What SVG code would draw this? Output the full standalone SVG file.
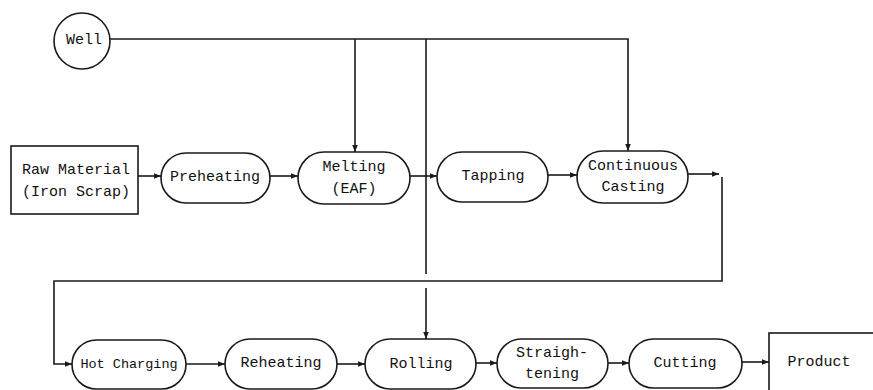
<svg xmlns="http://www.w3.org/2000/svg" width="873" height="390" viewBox="0 0 873 390">
  <style>
    .box { fill: #fff; stroke: #1a1a1a; stroke-width: 1.6; }
    .lbl { font-family: "Liberation Mono", "DejaVu Sans Mono", monospace; font-size: 15px; fill: #111; text-anchor: middle; dominant-baseline: central; }
    .small { font-size: 13.5px; }
    .wire { fill: none; stroke: #1a1a1a; stroke-width: 1.6; }
  </style>
  <defs>
    <marker id="arrow" viewBox="0 0 10 10" refX="10" refY="5" markerWidth="7" markerHeight="7" markerUnits="userSpaceOnUse" orient="auto">
      <path d="M0,1 L10,5 L0,9 z" fill="#1a1a1a"/>
    </marker>
  </defs>
  <rect width="873" height="390" fill="#fff"/>

  <!-- connectors -->
  <g id="connectors">
    <!-- well water header -->
    <path class="wire" d="M110,39 H628 V151" marker-end="url(#arrow)"/>
    <path class="wire" d="M355,39 V152" marker-end="url(#arrow)"/>
    <path class="wire" d="M426,39 V274"/>
    <path class="wire" d="M426,288 V339" marker-end="url(#arrow)"/>
    <!-- upper line -->
    <path class="wire" d="M138,176 H161" marker-end="url(#arrow)"/>
    <path class="wire" d="M270,176 H298" marker-end="url(#arrow)"/>
    <path class="wire" d="M410,176 H437" marker-end="url(#arrow)"/>
    <path class="wire" d="M548,175 H577" marker-end="url(#arrow)"/>
    <path class="wire" d="M688,174 H719" marker-end="url(#arrow)"/>
    <!-- return to lower line -->
    <path class="wire" d="M722,177 V281 H54 V364 H72" marker-end="url(#arrow)"/>
    <!-- lower line -->
    <path class="wire" d="M186,364 H225" marker-end="url(#arrow)"/>
    <path class="wire" d="M337,364 H365" marker-end="url(#arrow)"/>
    <path class="wire" d="M476,363 H497" marker-end="url(#arrow)"/>
    <path class="wire" d="M608,363 H629" marker-end="url(#arrow)"/>
    <path class="wire" d="M742,362 H769" marker-end="url(#arrow)"/>
  </g>

  <g id="well">
    <circle class="box" cx="82" cy="41" r="28"/>
    <text class="lbl" x="84" y="40">Well</text>
  </g>

  <g id="raw-material">
    <rect class="box" x="11" y="146" width="127" height="68"/>
    <text class="lbl" x="76" y="170">Raw Material</text>
    <text class="lbl" x="76" y="192">(Iron Scrap)</text>
  </g>

  <g id="preheating">
    <rect class="box" x="161" y="153" width="109" height="50" rx="25"/>
    <text class="lbl" x="215" y="177">Preheating</text>
  </g>

  <g id="melting">
    <rect class="box" x="298" y="152" width="112" height="52" rx="26"/>
    <text class="lbl" x="354" y="167">Melting</text>
    <text class="lbl" x="354" y="189">(EAF)</text>
  </g>

  <g id="tapping">
    <rect class="box" x="437" y="152" width="111" height="50" rx="25"/>
    <text class="lbl" x="493" y="176">Tapping</text>
  </g>

  <g id="continuous-casting">
    <rect class="box" x="577" y="151" width="111" height="52" rx="26"/>
    <text class="lbl" x="633" y="166">Continuous</text>
    <text class="lbl" x="633" y="187">Casting</text>
  </g>

  <g id="hot-charging">
    <rect class="box" x="72" y="340" width="114" height="49" rx="24.5"/>
    <text class="lbl small" x="129" y="364">Hot Charging</text>
  </g>

  <g id="reheating">
    <rect class="box" x="225" y="339" width="112" height="50" rx="25"/>
    <text class="lbl" x="281" y="363">Reheating</text>
  </g>

  <g id="rolling">
    <rect class="box" x="365" y="339" width="111" height="50" rx="25"/>
    <text class="lbl" x="421" y="364">Rolling</text>
  </g>

  <g id="straightening">
    <rect class="box" x="497" y="339" width="111" height="49" rx="24.5"/>
    <text class="lbl" x="552" y="353">Straigh-</text>
    <text class="lbl" x="552" y="374">tening</text>
  </g>

  <g id="cutting">
    <rect class="box" x="629" y="339" width="113" height="49" rx="24.5"/>
    <text class="lbl" x="685" y="363">Cutting</text>
  </g>

  <g id="product">
    <rect class="box" x="769" y="333" width="108" height="64"/>
    <text class="lbl" x="819" y="362">Product</text>
  </g>
</svg>
